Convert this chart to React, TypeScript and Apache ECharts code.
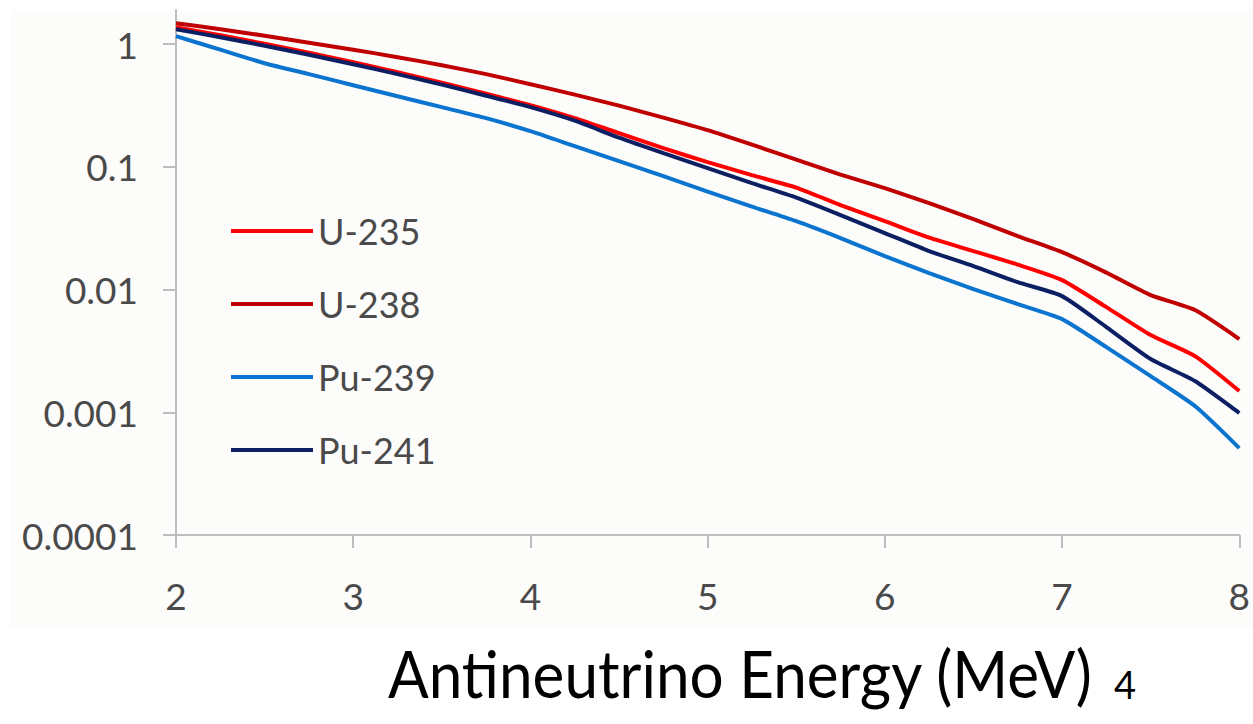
import React, { useEffect, useRef } from "react";
import * as echarts from "echarts";

// Antineutrino energy grid (MeV)
const energy = [2, 2.25, 2.5, 2.75, 3, 3.25, 3.5, 3.75, 4, 4.25, 4.5, 4.75, 5, 5.25, 5.5, 5.75, 6, 6.25, 6.5, 6.75, 7, 7.25, 7.5, 7.75, 8];

// Spectra per fission (antineutrinos / MeV / fission)
const u235 = [1.375, 1.184, 1.009, 0.853, 0.714, 0.591, 0.486, 0.395, 0.3184, 0.2495, 0.1883, 0.1421, 0.1093, 0.0857, 0.0678, 0.0488, 0.0361, 0.0265, 0.0206, 0.01598, 0.01195, 0.0072, 0.00426, 0.00287, 0.00149];
const u238 = [1.483, 1.325, 1.173, 1.029, 0.902, 0.784, 0.674, 0.57, 0.472, 0.388, 0.3155, 0.252, 0.1992, 0.1518, 0.1146, 0.0865, 0.0671, 0.0507, 0.0375, 0.0273, 0.0202, 0.01376, 0.00902, 0.00681, 0.00395];
const pu239 = [1.162, 0.902, 0.7, 0.57, 0.4634, 0.377, 0.3067, 0.2495, 0.1955, 0.1476, 0.1114, 0.0841, 0.0629, 0.0475, 0.0361, 0.0263, 0.01875, 0.01363, 0.01009, 0.00762, 0.00575, 0.0034, 0.00197, 0.001124, 0.000511];
const pu241 = [1.325, 1.14, 0.972, 0.821, 0.687, 0.57, 0.468, 0.3805, 0.3067, 0.238, 0.173, 0.1294, 0.0977, 0.0737, 0.0562, 0.0405, 0.0289, 0.0206, 0.01554, 0.0115, 0.00885, 0.00495, 0.00272, 0.0018, 0.000986];

const seriesNames = ["U-235", "U-238", "Pu-239", "Pu-241"];
const seriesColors = ["#ff0000", "#c00000", "#0a74cf", "#0c1f63"];
const seriesValues = [u235, u238, pu239, pu241];

const yTicks = [0.0001, 0.001, 0.01, 0.1, 1];
const xTitle = "Antineutrino Energy (MeV)";
const pageNumber = "4";

const LABEL_FONT = "Lato, 'Open Sans', sans-serif";

export default function App() {
  const ref = useRef<HTMLDivElement>(null);

  useEffect(() => {
    if (!ref.current) return;
    const chart = echarts.init(ref.current, undefined, { renderer: "svg" });

    const series = seriesNames.map((name, i) => ({
      name,
      type: "line",
      data: energy.map((e, j) => [e, seriesValues[i][j]]),
      showSymbol: false,
      smooth: 0.2,
      lineStyle: { color: seriesColors[i], width: 4 },
      itemStyle: { color: seriesColors[i] },
    }));

    chart.setOption({
      animation: false,
      backgroundColor: "#ffffff",
      grid: { left: 176, right: 10, top: 10, bottom: 189, containLabel: false },
      xAxis: {
        type: "value",
        min: 2,
        max: 8,
        interval: 1,
        axisLine: { show: true, lineStyle: { color: "#bdbdbd", width: 2 } },
        axisTick: { show: true, inside: false, length: 13, lineStyle: { color: "#bdbdbd", width: 2 } },
        axisLabel: { color: "#4a4a4a", fontFamily: LABEL_FONT, fontSize: 37, margin: 42 },
        splitLine: { show: false },
      },
      yAxis: {
        type: "log",
        logBase: 10,
        min: 0.0001,
        max: 1.9,
        axisLine: { show: true, lineStyle: { color: "#bdbdbd", width: 2 } },
        axisTick: { show: true, length: 13, lineStyle: { color: "#bdbdbd", width: 2 }, customValues: yTicks },
        axisLabel: {
          color: "#4a4a4a",
          fontFamily: LABEL_FONT,
          fontSize: 37,
          margin: 38,
          customValues: yTicks,
          formatter: (v: number) => String(Number(v.toPrecision(6))),
        },
        splitLine: { show: false },
      },
      legend: {
        orient: "vertical",
        left: 226,
        top: 206,
        icon: "rect",
        itemWidth: 82,
        itemHeight: 4,
        itemGap: 33,
        data: seriesNames,
        textStyle: { color: "#4a4a4a", fontFamily: LABEL_FONT, fontSize: 36, lineHeight: 40, padding: [0, 0, 0, 0] },
      },
      graphic: [
        {
          type: "rect",
          z: -10,
          silent: true,
          shape: { x: 10, y: 10, width: 1243, height: 618 },
          style: { fill: "#fcfcfa" },
        },
        {
          type: "text",
          silent: true,
          x: 388,
          y: 672,
          scaleX: 0.913,
          style: {
            text: xTitle,
            x: 0,
            y: 0,
            fill: "#000000",
            font: "66px Lato, 'Open Sans', sans-serif",
            verticalAlign: "middle",
            align: "left",
          },
        },
        {
          type: "text",
          silent: true,
          style: {
            text: pageNumber,
            x: 1114,
            y: 684,
            fill: "#000000",
            font: "38px Lato, 'Open Sans', sans-serif",
            verticalAlign: "middle",
            align: "left",
          },
        },
      ],
      series,
    });

    return () => chart.dispose();
  }, []);

  return (
    <div
      ref={ref}
      style={{ position: "fixed", left: 0, top: 0, width: 1253, height: 724 }}
    />
  );
}
